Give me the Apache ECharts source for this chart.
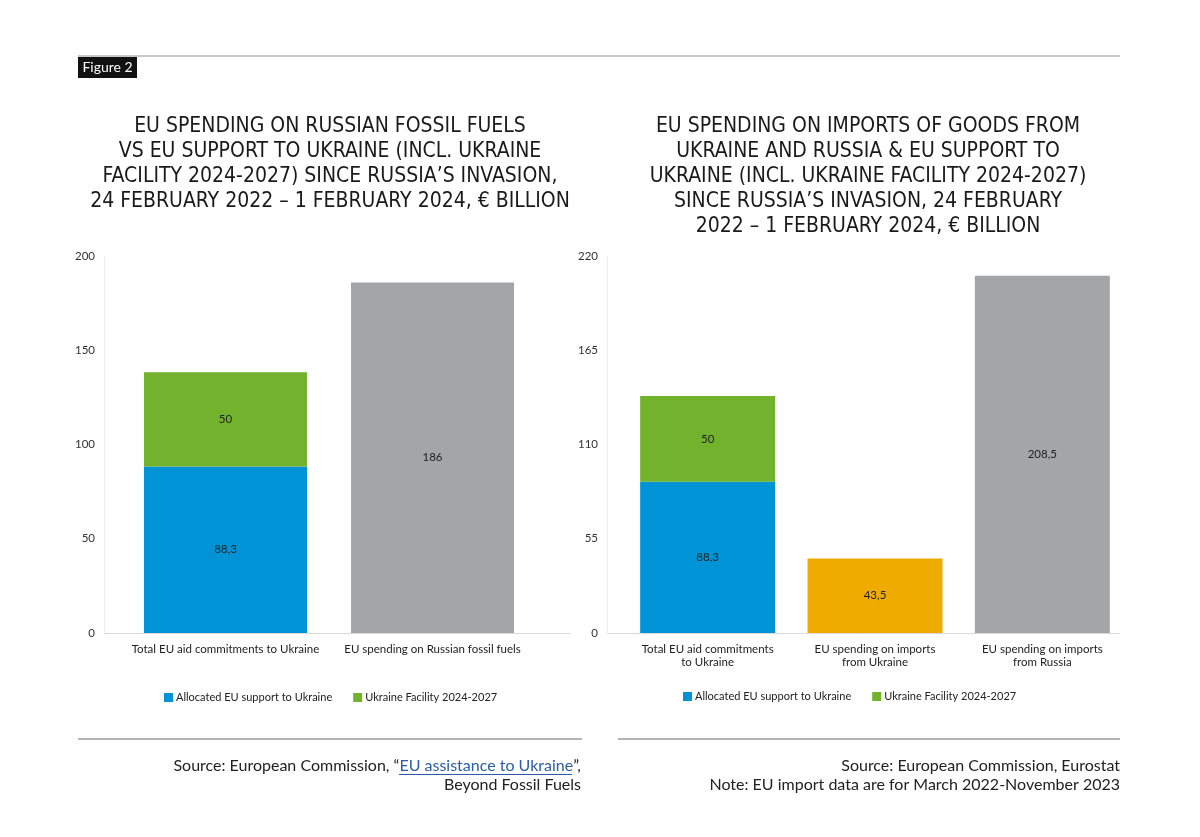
<!DOCTYPE html>
<html>
<head>
<meta charset="utf-8">
<script src="https://cdn.jsdelivr.net/npm/echarts@6/dist/echarts.min.js"></script>
<style>html,body{margin:0;padding:0;background:#fff}#c{width:1200px;height:837px}</style>
</head>
<body>
<div id="c"></div>
<script>
// ---- data ----
const leftCategories = ['Total EU aid commitments to Ukraine', 'EU spending on Russian fossil fuels'];
const leftAllocated = [88.3, '-'];
const leftFacility = [50, '-'];
const leftOther = ['-', 186];

const rightCategories = ['Total EU aid commitments\nto Ukraine', 'EU spending on imports\nfrom Ukraine', 'EU spending on imports\nfrom Russia'];
const rightAllocated = [88.3, '-', '-'];
const rightFacility = [50, '-', '-'];
const rightOther = ['-', 43.5, 208.5];

const leftTicks = {min: 0, max: 200, interval: 50};
const rightTicks = {min: 0, max: 220, interval: 55};

const legendNames = ['Allocated EU support to Ukraine', 'Ukraine Facility 2024-2027'];

const leftTitle = 'EU SPENDING ON RUSSIAN FOSSIL FUELS\nVS EU SUPPORT TO UKRAINE (INCL. UKRAINE\nFACILITY 2024-2027) SINCE RUSSIA’S INVASION,\n24 FEBRUARY 2022 – 1 FEBRUARY 2024, € BILLION';
const rightTitle = 'EU SPENDING ON IMPORTS OF GOODS FROM\nUKRAINE AND RUSSIA & EU SUPPORT TO\nUKRAINE (INCL. UKRAINE FACILITY 2024-2027)\nSINCE RUSSIA’S INVASION, 24 FEBRUARY\n2022 – 1 FEBRUARY 2024, € BILLION';

// ---- styles ----
const C_BLUE = '#0093d6', C_GREEN = '#72b22c', C_GRAY = '#a3a6a7', C_ORANGE = '#efab00';
const FONT = 'Lato, "Noto Sans", sans-serif';
const TITLE_FONT = '"Liberation Sans Narrow", "DejaVu Sans Condensed", sans-serif';
const fmt = p => String(p.value).replace('.', ',');
const lbl = {show: true, position: 'inside', color: '#222', fontSize: 11.5, fontFamily: FONT, formatter: fmt};

const chart = echarts.init(document.getElementById('c'), null, {renderer: 'canvas'});

function yAx(gi, t, offset) {
  return {type: 'value', gridIndex: gi, min: t.min, max: t.max, interval: t.interval, offset: offset,
    axisLine: {show: true, lineStyle: {color: '#ececec', width: 1}}, axisTick: {show: false},
    splitLine: {show: false},
    axisLabel: {color: '#333', fontSize: 11.5, fontFamily: FONT, margin: 9}};
}
function xAx(gi, cats) {
  return {type: 'category', gridIndex: gi, data: cats,
    axisLine: {show: false}, axisTick: {show: false},
    axisLabel: {color: '#222', fontSize: 11.5, fontFamily: FONT, margin: 10, lineHeight: 13, interval: 0}};
}

chart.setOption({
  animation: false,
  backgroundColor: '#fff',
  grid: [
    {left: 122, right: 1200 - 536, top: 256, bottom: 204},
    {left: 624, right: 1200 - 1126, top: 256, bottom: 204}
  ],
  xAxis: [xAx(0, leftCategories), xAx(1, rightCategories)],
  yAxis: [yAx(0, leftTicks, 18), yAx(1, rightTicks, 17)],
  legend: [
    {data: legendNames, left: 164, top: 692, padding: 0, itemWidth: 9, itemHeight: 9, icon: 'rect', itemGap: 21,
     textStyle: {fontSize: 11, fontFamily: FONT, color: '#222', padding: [0, 0, 0, -2]}},
    {data: legendNames, left: 683, top: 691, padding: 0, itemWidth: 9, itemHeight: 9, icon: 'rect', itemGap: 21,
     textStyle: {fontSize: 11, fontFamily: FONT, color: '#222', padding: [0, 0, 0, -2]}}
  ],
  series: [
    {name: legendNames[0], type: 'bar', xAxisIndex: 0, yAxisIndex: 0, stack: 'L', barWidth: 163,
     data: leftAllocated, itemStyle: {color: C_BLUE}, label: lbl},
    {name: legendNames[1], type: 'bar', xAxisIndex: 0, yAxisIndex: 0, stack: 'L', barWidth: 163,
     data: leftFacility, itemStyle: {color: C_GREEN}, label: lbl},
    {name: 'Russian fossil fuels', type: 'bar', xAxisIndex: 0, yAxisIndex: 0, stack: 'L', barWidth: 163,
     data: leftOther, itemStyle: {color: C_GRAY}, label: lbl},
    {name: legendNames[0], type: 'bar', xAxisIndex: 1, yAxisIndex: 1, stack: 'R', barWidth: 135,
     data: rightAllocated, itemStyle: {color: C_BLUE}, label: lbl},
    {name: legendNames[1], type: 'bar', xAxisIndex: 1, yAxisIndex: 1, stack: 'R', barWidth: 135,
     data: rightFacility, itemStyle: {color: C_GREEN}, label: lbl},
    {name: 'Imports', type: 'bar', xAxisIndex: 1, yAxisIndex: 1, stack: 'R', barWidth: 135,
     data: rightOther.map((v, i) => v === '-' ? v : {value: v, itemStyle: {color: i === 1 ? C_ORANGE : C_GRAY}}),
     label: lbl}
  ],
  graphic: [
    {type: 'line', shape: {x1: 78, y1: 56, x2: 1120, y2: 56}, style: {stroke: '#b5b5b5', lineWidth: 1.5}},
    {type: 'rect', shape: {x: 78, y: 57, width: 59, height: 21}, style: {fill: '#111'}},
    {type: 'text', x: 107.5, y: 67.5, style: {text: 'Figure 2', fill: '#fff', font: '14px ' + FONT, align: 'center', verticalAlign: 'middle'}},
    {type: 'text', x: 330, y: 114, style: {text: leftTitle, fill: '#1a1a1a', font: '21px ' + TITLE_FONT, align: 'center', verticalAlign: 'top', lineHeight: 25}},
    {type: 'text', x: 868, y: 114, style: {text: rightTitle, fill: '#1a1a1a', font: '21px ' + TITLE_FONT, align: 'center', verticalAlign: 'top', lineHeight: 25}},
    {type: 'line', shape: {x1: 104, y1: 633.5, x2: 570, y2: 633.5}, style: {stroke: '#d9d9d9', lineWidth: 1}},
    {type: 'line', shape: {x1: 607, y1: 633.5, x2: 1120, y2: 633.5}, style: {stroke: '#d9d9d9', lineWidth: 1}},
    {type: 'line', shape: {x1: 78, y1: 739, x2: 582, y2: 739}, style: {stroke: '#9a9a9a', lineWidth: 1.5}},
    {type: 'line', shape: {x1: 618, y1: 739, x2: 1120, y2: 739}, style: {stroke: '#9a9a9a', lineWidth: 1.5}},
    {type: 'text', x: 581, y: 756, style: {
      text: 'Source: European Commission, “{link|EU assistance to Ukraine}”,\nBeyond Fossil Fuels',
      fill: '#222', font: '16px ' + FONT, align: 'right', verticalAlign: 'top', lineHeight: 19,
      rich: {link: {fill: '#2a5ca8', font: '16px ' + FONT}}}},
    {type: 'line', shape: {x1: 399, y1: 774.5, x2: 572, y2: 774.5}, style: {stroke: '#2a5ca8', lineWidth: 1}},
    {type: 'text', x: 1120, y: 756, style: {
      text: 'Source: European Commission, Eurostat\nNote: EU import data are for March 2022-November 2023',
      fill: '#222', font: '16px ' + FONT, align: 'right', verticalAlign: 'top', lineHeight: 19}}
  ]
});
</script>
</body>
</html>
